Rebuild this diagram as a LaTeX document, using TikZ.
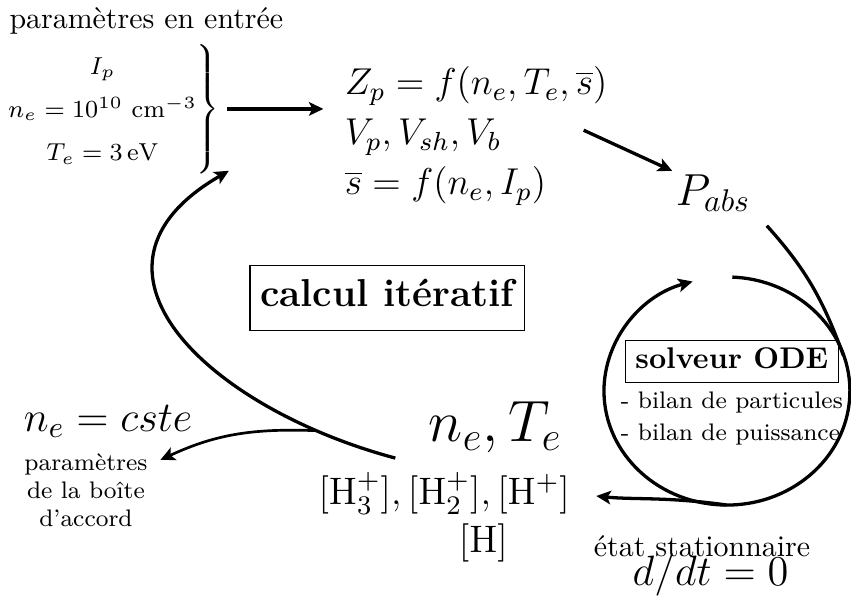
\documentclass[tikz,border=0pt]{standalone}
\usepackage{amsmath}
\DeclareFontShape{OML}{cmm}{m}{it}{<-6>cmmi5 <6-7>cmmi6 <7-8>cmmi7 <8-9>cmmi8
  <9-10>cmmi9 <10-12>cmmi10 <12->cmmi12}{}
\DeclareFontShape{OMS}{cmsy}{m}{n}{<-6>cmsy5 <6-7>cmsy6 <7-8>cmsy7 <8-9>cmsy8
  <9-10>cmsy9 <10->cmsy10}{}
\DeclareFontShape{OT1}{cmr}{m}{n}{<-6>cmr5 <6-7>cmr6 <7-8>cmr7 <8-9>cmr8
  <9-10>cmr9 <10-12>cmr10 <12-17>cmr12 <17->cmr17}{}
\usetikzlibrary{arrows.meta, positioning}
\tikzset{
  txt/.style={inner sep=1pt},
  bigmath/.style={txt, font=\fontsize{15}{18}\selectfont},
  midmath/.style={txt, font=\fontsize{14.2}{17}\selectfont},
  specmath/.style={txt, font=\fontsize{12.8}{15}\selectfont},
  boxlbl/.style={rectangle, draw, line width=0.5pt, inner xsep=3.4pt, inner ysep=1pt},
  arr/.style={-{Stealth[length=1.7mm, width=1.6mm, inset=0.4mm]}, line width=1.1pt},
  plain/.style={line width=1.1pt},
}
\begin{document}
\begin{tikzpicture}
  \useasboundingbox (0,0) rectangle (10,-7.015);
  % parametres d'entree
  \node[txt] (title) at (1.72,-0.25) {paramètres en entrée};
  \node[txt, anchor=east, font=\fontsize{8.2}{10}\selectfont] (inputs) at (2.62,-1.28)
    {\def\arraystretch{1.45}$\left.\begin{array}{@{}c@{}}
      I_p\\ n_e=10^{10}\ \mathrm{cm}^{-3}\\ T_e=3\,\mathrm{eV}
    \end{array}\right\}$};
  \node[txt, anchor=west, align=left, font=\fontsize{12.5}{16.7}\selectfont] (res)
    at (4.01,-1.60)
    {$Z_p=f(n_e,T_e,\overline{s})$\\ $V_p,V_{sh},V_b$\\ $\overline{s}=f(n_e,I_p)$};
  \node[bigmath] (pabs) at (8.38,-2.27) {$P_{abs}$};
  \node[boxlbl, inner ysep=3.4pt, font=\fontsize{13}{15}\selectfont\bfseries] (calc)
    at (4.55,-3.50) {\strut calcul itératif};
  % solveur
  \node[boxlbl, font=\bfseries] (ode) at (8.60,-4.25) {\strut solveur ODE};
  \node[txt, below=0.06cm of ode, align=left, font=\fontsize{8}{10.7}\selectfont] (bilan)
    {- bilan de particules\\- bilan de puissance};
  \node[txt, font=\fontsize{19.5}{23}\selectfont] (nt) at (5.82,-5.02) {$n_e,T_e$};
  \node[specmath] (species) at (5.22,-5.80)
    {$[\mathrm{H}_3^+],[\mathrm{H}_2^+],[\mathrm{H}^+]$};
  \node[specmath] (hneu) at (5.68,-6.38) {$[\mathrm{H}]$};
  \node[midmath] (cste) at (1.27,-4.95) {$n_e=cste$};
  \node[txt, align=center, font=\footnotesize] (tuning) at (1.01,-5.76)
    {paramètres\\de la boîte\\d'accord};
  \node[txt] (etat) at (8.25,-6.42) {état stationnaire};
  \node[midmath] (ddt) at (8.35,-6.76) {$d/dt=0$};

  \coordinate (odetop) at (8.605,-3.256);
  \coordinate (odein) at (9.912,-4.181);
  \coordinate (odebot) at (8.537,-5.934);
  \coordinate (split) at (3.70,-5.06);

  \draw[arr, shorten <=0.05cm, shorten >=0.21cm] (inputs.east) -- (inputs.east -| res.west);
  \draw[arr] ([shift={(-0.32,0.07)}]res.east) -- (pabs.north west);
  \draw[plain] ([shift={(0.15,-0.12)}]pabs.south east) to[out=-48, in=110] (odein);
  \draw[arr] (odetop) arc[start angle=87.5, end angle=-253.8,
    x radius=1.445cm, y radius=1.34cm];
  \draw[arr, shorten >=0.27cm] (odebot) to[out=172, in=-6] (species.east);
  \draw[arr] ([shift={(-0.35,-0.02)}]nt.south west) to[out=165, in=210, looseness=1.5]
    ([shift={(0.07,0.08)}]inputs.south east);
  \draw[arr, line width=0.9pt] (split) to[out=178, in=25]
    ([shift={(0.11,-0.12)}]tuning.north east);
\end{tikzpicture}
\end{document}
